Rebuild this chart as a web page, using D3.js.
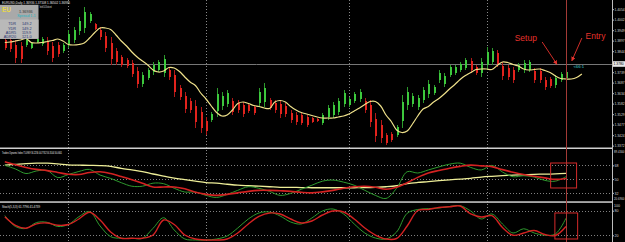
<!DOCTYPE html>
<html><head><meta charset="utf-8">
<script src="https://cdn.jsdelivr.net/npm/d3@7"></script>
<style>body{margin:0;background:#000;}svg{display:block;}</style>
</head><body>
<svg id="c" width="625" height="242"></svg>
<script>
// ---------- DATA ----------
const barHigh=[1.3910,1.3915,1.3900,1.3890,1.3910,1.3890,1.3910,1.3915,1.3915,1.3890,1.3890,1.3885,1.3950,1.3965,1.4015,1.4065,1.4040,1.3985,1.3965,1.3940,1.3915,1.3860,1.3825,1.3810,1.3800,1.3765,1.3740,1.3760,1.3790,1.3800,1.3825,1.3765,1.3750,1.3675,1.3640,1.3610,1.3600,1.3565,1.3515,1.3540,1.3660,1.3640,1.3650,1.3610,1.3600,1.3590,1.3585,1.3575,1.3660,1.3685,1.3610,1.3600,1.3600,1.3585,1.3550,1.3540,1.3535,1.3525,1.3515,1.3510,1.3535,1.3575,1.3590,1.3610,1.3650,1.3615,1.3640,1.3655,1.3610,1.3600,1.3535,1.3500,1.3435,1.3440,1.3475,1.3625,1.3665,1.3635,1.3625,1.3665,1.3700,1.3675,1.3750,1.3735,1.3775,1.3775,1.3790,1.3810,1.3810,1.3775,1.3810,1.3865,1.3860,1.3850,1.3790,1.3775,1.3765,1.3785,1.3800,1.3800,1.3760,1.3760,1.3715,1.3715,1.3725,1.3740,1.3750];
const barLow=[1.3850,1.3840,1.3785,1.3785,1.3865,1.3855,1.3885,1.3870,1.3825,1.3790,1.3815,1.3835,1.3860,1.3885,1.3925,1.3935,1.3985,1.3950,1.3900,1.3840,1.3775,1.3775,1.3765,1.3760,1.3715,1.3660,1.3665,1.3700,1.3725,1.3740,1.3715,1.3700,1.3615,1.3600,1.3535,1.3535,1.3460,1.3435,1.3425,1.3490,1.3515,1.3550,1.3565,1.3525,1.3535,1.3515,1.3535,1.3525,1.3565,1.3565,1.3550,1.3535,1.3510,1.3515,1.3485,1.3475,1.3475,1.3465,1.3485,1.3490,1.3475,1.3500,1.3510,1.3525,1.3565,1.3565,1.3585,1.3590,1.3535,1.3465,1.3390,1.3385,1.3375,1.3390,1.3415,1.3460,1.3550,1.3565,1.3550,1.3585,1.3610,1.3625,1.3685,1.3665,1.3715,1.3725,1.3740,1.3750,1.3735,1.3725,1.3715,1.3750,1.3775,1.3765,1.3700,1.3700,1.3685,1.3740,1.3735,1.3740,1.3685,1.3685,1.3650,1.3660,1.3660,1.3690,1.3700];
const barOpen=[1.3900,1.3900,1.3875,1.3870,1.3875,1.3860,1.3890,1.3880,1.3895,1.3870,1.3875,1.3845,1.3880,1.3900,1.3945,1.3960,1.3995,1.3980,1.3950,1.3920,1.3885,1.3845,1.3815,1.3800,1.3785,1.3745,1.3680,1.3710,1.3740,1.3750,1.3735,1.3750,1.3725,1.3660,1.3620,1.3595,1.3570,1.3540,1.3495,1.3500,1.3545,1.3570,1.3580,1.3595,1.3585,1.3575,1.3575,1.3565,1.3585,1.3590,1.3600,1.3585,1.3580,1.3570,1.3535,1.3525,1.3525,1.3515,1.3510,1.3505,1.3485,1.3515,1.3525,1.3540,1.3580,1.3575,1.3595,1.3605,1.3595,1.3575,1.3505,1.3475,1.3425,1.3430,1.3425,1.3495,1.3575,1.3580,1.3565,1.3600,1.3630,1.3635,1.3700,1.3680,1.3725,1.3735,1.3750,1.3760,1.3795,1.3765,1.3735,1.3775,1.3790,1.3835,1.3770,1.3760,1.3750,1.3750,1.3750,1.3750,1.3745,1.3745,1.3700,1.3705,1.3675,1.3700,1.3710];
const barClose=[1.3860,1.3855,1.3810,1.3805,1.3900,1.3885,1.3905,1.3905,1.3845,1.3810,1.3830,1.3875,1.3930,1.3950,1.3995,1.4040,1.4030,1.3955,1.3915,1.3860,1.3805,1.3790,1.3775,1.3770,1.3730,1.3680,1.3725,1.3750,1.3775,1.3790,1.3805,1.3715,1.3640,1.3615,1.3555,1.3550,1.3490,1.3460,1.3445,1.3530,1.3630,1.3620,1.3635,1.3540,1.3550,1.3530,1.3545,1.3535,1.3640,1.3660,1.3560,1.3550,1.3530,1.3530,1.3500,1.3490,1.3485,1.3475,1.3490,1.3495,1.3525,1.3560,1.3575,1.3595,1.3635,1.3605,1.3630,1.3640,1.3550,1.3490,1.3420,1.3410,1.3385,1.3400,1.3465,1.3590,1.3640,1.3620,1.3610,1.3650,1.3680,1.3665,1.3735,1.3720,1.3765,1.3765,1.3780,1.3800,1.3750,1.3735,1.3790,1.3840,1.3845,1.3780,1.3720,1.3715,1.3700,1.3775,1.3785,1.3790,1.3700,1.3700,1.3665,1.3670,1.3710,1.3730,1.3740];
// moving average, one value per bar (index 0..109, last three shifted forward)
const maValues=[1.38875,1.3890,1.3895,1.3900,1.39075,1.38875,1.3885,1.38875,1.38925,1.38975,1.3905,1.3895,1.38775,1.3875,1.38775,1.3885,1.3910,1.39375,1.3960,1.3960,1.39525,1.3925,1.3895,1.3870,1.3840,1.3815,1.3795,1.3775,1.3750,1.3740,1.3745,1.37625,1.3760,1.37425,1.3715,1.3690,1.36725,1.3635,1.3605,1.3570,1.35375,1.3520,1.3525,1.3550,1.35825,1.3590,1.35825,1.35725,1.35675,1.3560,1.35575,1.3590,1.35975,1.3590,1.35675,1.3550,1.35375,1.3530,1.35225,1.3515,1.3510,1.3510,1.3510,1.3515,1.3520,1.3530,1.3545,1.3560,1.35775,1.35925,1.35925,1.3570,1.3525,1.34925,1.3450,1.34375,1.3445,1.3480,1.3520,1.3555,1.35675,1.3590,1.36075,1.3630,1.3655,1.36775,1.37025,1.37225,1.37375,1.37525,1.3755,1.3755,1.37525,1.37725,1.3790,1.37875,1.37775,1.3770,1.3755,1.3750,1.37525,1.3755,1.37475,1.37375,1.3720,1.37075,1.3705,1.3705,1.37125,1.3730];
// indicator samples taken every second bar
const indIdx=[0,2,4,6,8,10,12,14,16,18,20,22,24,26,28,30,32,34,36,38,40,42,44,46,48,50,52,54,56,58,60,62,64,66,68,70,72,74,76,78,80,82,84,86,88,90,92,94,96,98,100,102,104,106];
const tdiYellow=[68.3,69.3,70.3,70.9,70.9,70.0,68.7,68.3,68.0,67.7,66.7,64.0,62.0,59.9,56.7,54.0,51.3,49.3,47.3,45.3,44.7,43.3,42.0,41.3,40.7,40.0,39.3,39.3,38.9,38.7,38.7,38.7,38.7,38.7,38.9,39.3,40.0,41.3,44.0,45.6,46.7,48.0,49.1,50.0,51.1,52.7,53.7,54.5,55.2,55.7,56.3,56.5,56.9,57.6];
const tdiRed=[72.7,68.7,65.3,62.7,61.1,58.7,56.3,56.0,58.7,59.7,57.3,53.3,49.3,44.7,39.7,39.7,39.7,37.3,32.7,30.0,28.7,30.0,32.0,34.0,35.3,35.3,34.7,34.0,32.7,32.0,33.3,35.3,38.0,40.0,40.7,39.3,36.7,39.3,45.3,52.3,58.0,61.3,64.3,66.7,68.3,67.3,66.4,62.4,58.9,56.0,53.7,51.6,49.7,50.9];
const tdiGreen=[68.0,63.3,57.3,60.7,61.3,52.0,56.0,60.0,62.7,55.3,50.9,45.3,40.7,40.7,44.7,44.0,38.0,33.1,33.1,28.7,26.0,30.0,35.3,40.0,38.0,34.0,28.7,31.3,36.7,42.0,47.3,48.7,46.0,42.0,35.3,28.7,24.7,38.0,59.7,58.0,62.0,66.0,69.6,70.9,65.3,62.0,68.0,59.3,53.1,54.4,52.7,48.3,47.3,53.3];
const stochMain=[68.3,41.5,36.6,51.2,51.7,41.5,46.3,65.4,78.0,42.7,16.6,12.7,12.7,12.7,37.1,62.9,32.9,11.0,8.5,8.5,11.0,18.3,37.8,59.8,74.4,76.8,67.1,52.4,47.6,62.2,79.3,84.1,72.0,47.6,25.6,13.4,11.0,28.0,73.7,82.9,85.1,86.6,90.2,92.2,79.3,59.8,72.0,47.6,25.6,35.9,25.6,20.2,23.2,61.8];
const stochSignal=[65.4,44.4,37.3,48.0,50.0,44.6,46.3,59.8,76.1,57.3,28.0,12.7,12.7,12.7,20.7,57.3,46.3,20.7,11.0,8.5,8.5,11.0,25.6,47.6,65.9,74.4,72.0,59.8,50.0,54.9,69.5,79.3,76.8,59.8,37.8,20.7,11.0,12.2,42.7,80.5,82.9,87.8,89.5,91.5,72.0,64.6,67.8,39.0,20.2,25.6,31.7,22.0,19.5,41.5];
const priceTicks=[1.4054,1.4002,1.3949,1.3897,1.3844,1.3739,1.3687,1.3634,1.3582,1.3529,1.3477,1.3424,1.3372];
const bidPrice=1.3780;
const tdiLevels=[68,50,32];
const stochLevels=[80,20];
const separators=[12,38,65,91];
const signalBar=106;
const infoRows=[["TDR","149.2"],["YDR","149.2"],["ADR5","119.9"],["ADR20","121.0"]];

// ---------- SCALES ----------
const W=625,H=242,AX=612;
const svg=d3.select('#c');
const x=d3.scaleLinear().domain([0,106]).range([4.8,566]);
const yP=d3.scaleLinear().domain([1.3365,1.41]).range([147,0]);
const yT=d3.scaleLinear().domain([20.69,89.43]).range([201.5,149]);
const yS=d3.scaleLinear().domain([0,100]).range([243.5,202.5]);
const FONT='"Liberation Sans", Arial, sans-serif';

svg.append('rect').attr('width',W).attr('height',H).attr('fill','#000');
const defs=svg.append('defs');
function clip(id,y0,y1){defs.append('clipPath').attr('id',id).append('rect').attr('x',0).attr('y',y0).attr('width',AX).attr('height',y1-y0);}
clip('cm',0,147.5);clip('ct',149,201);clip('cs',203,242);
defs.append('marker').attr('id','ah').attr('viewBox','0 0 10 10').attr('refX',9).attr('refY',5)
  .attr('markerWidth',5).attr('markerHeight',5).attr('orient','auto')
  .append('path').attr('d','M0,0L10,5L0,10Z').attr('fill','#e5322c');

// period separators
svg.append('g').selectAll('line').data(separators).join('line')
  .attr('x1',d=>Math.round(x(d))+0.5).attr('x2',d=>Math.round(x(d))+0.5)
  .attr('y1',0).attr('y2',H).attr('stroke','#8a8a8a').attr('stroke-dasharray','1,2');

// ---------- MAIN PANEL ----------
const gm=svg.append('g').attr('clip-path','url(#cm)');
gm.append('line').attr('x1',0).attr('x2',AX).attr('y1',Math.round(yP(bidPrice))+0.5).attr('y2',Math.round(yP(bidPrice))+0.5)
  .attr('stroke','#777').attr('stroke-width',1);
const bars=d3.range(barHigh.length);
const col=i=>barClose[i]>=barOpen[i]?'#3dc83d':'#e2231d';
gm.append('g').attr('shape-rendering','crispEdges').selectAll('rect').data(bars).join('rect')
  .attr('x',i=>Math.round(x(i))).attr('width',1)
  .attr('y',i=>yP(barHigh[i])).attr('height',i=>yP(barLow[i])-yP(barHigh[i]))
  .attr('fill',i=>barClose[i]>=barOpen[i]?'#2c9a2c':'#b01818');
gm.append('g').attr('shape-rendering','crispEdges').selectAll('rect').data(bars).join('rect')
  .attr('x',i=>Math.round(x(i))-0.5).attr('width',2.2)
  .attr('y',i=>yP(Math.max(barOpen[i],barClose[i])))
  .attr('height',i=>Math.max(1,Math.abs(yP(barOpen[i])-yP(barClose[i]))))
  .attr('fill',col);
gm.append('path').datum(maValues).attr('fill','none').attr('stroke','#eee08a').attr('stroke-width',1.2)
  .attr('d',d3.line().x((d,i)=>x(i)).y(d=>yP(d)).curve(d3.curveCatmullRom.alpha(0.5)));

// ---------- TDI PANEL ----------
const gt=svg.append('g').attr('clip-path','url(#ct)');
gt.selectAll('line.lv').data(tdiLevels).join('line').attr('class','lv')
  .attr('x1',0).attr('x2',AX).attr('y1',d=>Math.round(yT(d))+0.5).attr('y2',d=>Math.round(yT(d))+0.5)
  .attr('stroke','#808080').attr('stroke-dasharray','1,2');
const lineT=arr=>d3.line().x((d,k)=>x(indIdx[k])).y(d=>yT(d)).curve(d3.curveCatmullRom.alpha(0.5))(arr);
gt.append('path').attr('d',lineT(tdiYellow)).attr('fill','none').attr('stroke','#eeee98').attr('stroke-width',1.3);
gt.append('path').attr('d',lineT(tdiGreen)).attr('fill','none').attr('stroke','#2e9a2e').attr('stroke-width',1);
gt.append('path').attr('d',lineT(tdiRed)).attr('fill','none').attr('stroke','#d42222').attr('stroke-width',1.6);

// ---------- STOCH PANEL ----------
const gs=svg.append('g').attr('clip-path','url(#cs)');
gs.selectAll('line.lv').data(stochLevels).join('line').attr('class','lv')
  .attr('x1',0).attr('x2',AX).attr('y1',d=>Math.round(yS(d))+0.5).attr('y2',d=>Math.round(yS(d))+0.5)
  .attr('stroke','#808080').attr('stroke-dasharray','1,2');
const lineS=arr=>d3.line().x((d,k)=>x(indIdx[k])).y(d=>yS(d)).curve(d3.curveCatmullRom.alpha(0.5))(arr);
gs.append('path').attr('d',lineS(stochMain)).attr('fill','none').attr('stroke','#2e9a2e').attr('stroke-width',1);
gs.append('path').attr('d',lineS(stochSignal)).attr('fill','none').attr('stroke','#d42222').attr('stroke-width',1.4);

// panel separators
svg.append('rect').attr('x',0).attr('y',147.5).attr('width',AX).attr('height',1.5).attr('fill','#cfcfcf');
svg.append('rect').attr('x',0).attr('y',201.3).attr('width',AX).attr('height',1.5).attr('fill','#cfcfcf');

// signal bar vertical line
svg.append('line').attr('x1',Math.round(x(signalBar))+0.5).attr('x2',Math.round(x(signalBar))+0.5)
  .attr('y1',0).attr('y2',H).attr('stroke','#a33a36').attr('stroke-width',1);

// ---------- AXES ----------
svg.append('line').attr('x1',AX+0.5).attr('x2',AX+0.5).attr('y1',0).attr('y2',H).attr('stroke','#bdbdbd');
function styleAxis(g,fs){g.select('.domain').remove();g.selectAll('line').attr('stroke','#bdbdbd');
  g.selectAll('text').attr('fill','#d6d6d6').attr('font-size',fs+'px').attr('font-family',FONT).attr('x',2);}
svg.append('g').attr('transform',`translate(${AX+0.5},0)`)
  .call(d3.axisRight(yP).tickValues(priceTicks).tickFormat(d3.format('.4f')).tickSize(1.5)).call(g=>styleAxis(g,3.3));
svg.append('g').attr('transform',`translate(${AX+0.5},0)`)
  .call(d3.axisRight(yT).tickValues(tdiLevels).tickFormat(d3.format('d')).tickSize(1.5)).call(g=>styleAxis(g,3.6));
svg.append('g').attr('transform',`translate(${AX+0.5},0)`)
  .call(d3.axisRight(yS).tickValues(stochLevels).tickFormat(d3.format('d')).tickSize(1.5)).call(g=>styleAxis(g,3.6));
const axText=(t,y,fs)=>svg.append('text').attr('x',AX+2).attr('y',y).text(t)
  .attr('fill','#d6d6d6').attr('font-size',fs+'px').attr('font-family',FONT);
axText(d3.format('.4f')(yT.domain()[1]),153.3,2.9);
axText(d3.format('.4f')(yT.domain()[0]),199.6,2.9);
axText('100',206.8,3.6);
// bid label
svg.append('rect').attr('x',AX+1).attr('y',yP(bidPrice)-2.8).attr('width',12).attr('height',5.6).attr('fill','#e8e8e8');
svg.append('text').attr('x',AX+1.6).attr('y',yP(bidPrice)+1.3).text(d3.format('.4f')(bidPrice))
  .attr('fill','#000').attr('font-size','3.3px').attr('font-family',FONT);

// ---------- HEADERS ----------
const hdr=(t,xx,yy,len,fill)=>svg.append('text').attr('x',xx).attr('y',yy).text(t).attr('fill',fill||'#e6e6e6')
  .attr('font-size','3.4px').attr('font-family',FONT).attr('textLength',len).attr('lengthAdjust','spacingAndGlyphs');
hdr('EURUSD,Daily  1.36936 1.37108 1.36502 1.36936',2,3.8,68);
hdr('Time left 11:42:05 to bar end',39.5,8.2,12);
hdr('Traders Dynamic Index 71.0969 56.2230 44.7762 56.3144 50.0601',2,154,60);
hdr('Stoch(5,3,3) 61.7796 41.4739',2,208.3,38);

// info box
const ib=svg.append('g');
ib.append('rect').attr('x',0).attr('y',4.8).attr('width',38.5).attr('height',34).attr('fill','#a9a9a9');
ib.append('rect').attr('x',0).attr('y',19.5).attr('width',38.5).attr('height',19.3).attr('fill','#b9b9b9');
ib.append('text').attr('x',2).attr('y',12).text('EU').attr('fill','#e8d84a').attr('font-size','6.5px').attr('font-weight','bold').attr('font-family',FONT);
ib.append('text').attr('x',19).attr('y',13.3).text('1.36936').attr('fill','#333').attr('font-size','3.8px').attr('font-family',FONT);
ib.append('text').attr('x',17).attr('y',17.4).text('Spread 1.1').attr('fill','#1fb5c2').attr('font-size','3.8px').attr('font-family',FONT);
ib.selectAll('g.r').data(infoRows).join('g').attr('class','r').each(function(d,k){
  const g=d3.select(this),yy=25.3+k*4.2;
  g.append('text').attr('x',16).attr('y',yy).attr('text-anchor','end').text(d[0]).attr('fill','#27336e').attr('font-size','3.8px').attr('font-family',FONT);
  g.append('text').attr('x',22).attr('y',yy).text(d[1]).attr('fill','#27336e').attr('font-size','3.8px').attr('font-family',FONT);
});

// ---------- ANNOTATIONS ----------
const ann=svg.append('g');
ann.append('text').attr('x',x(96.3)).attr('y',yP(1.3893)).text('Setup').attr('fill','#e5322c').attr('font-size','8.5px').attr('font-family',FONT);
ann.append('text').attr('x',x(109.7)).attr('y',yP(1.3903)).text('Entry').attr('fill','#e5322c').attr('font-size','8.5px').attr('font-family',FONT);
ann.append('line').attr('x1',x(101.5)).attr('y1',yP(1.3890)).attr('x2',x(104.3)).attr('y2',yP(1.3778))
  .attr('stroke','#e5322c').attr('stroke-width',0.9).attr('marker-end','url(#ah)');
ann.append('line').attr('x1',x(109.0)).attr('y1',yP(1.3910)).attr('x2',x(107.1)).attr('y2',yP(1.3796))
  .attr('stroke','#e5322c').attr('stroke-width',0.9).attr('marker-end','url(#ah)');
ann.append('text').attr('x',x(107.4)).attr('y',yP(1.3760)).text('<66:1').attr('fill','#3fd6d6').attr('font-size','4.2px').attr('font-family',FONT);
ann.append('rect').attr('x',x(103.1)).attr('y',yT(71.1)).attr('width',x(108.0)-x(103.1)).attr('height',yT(38.4)-yT(71.1))
  .attr('fill','none').attr('stroke','#d42a2a').attr('stroke-width',1);
ann.append('rect').attr('x',x(103.9)).attr('y',yS(74.4)).attr('width',x(108.2)-x(103.9)).attr('height',yS(11.0)-yS(74.4))
  .attr('fill','none').attr('stroke','#d42a2a').attr('stroke-width',1);
</script>
</body></html>
